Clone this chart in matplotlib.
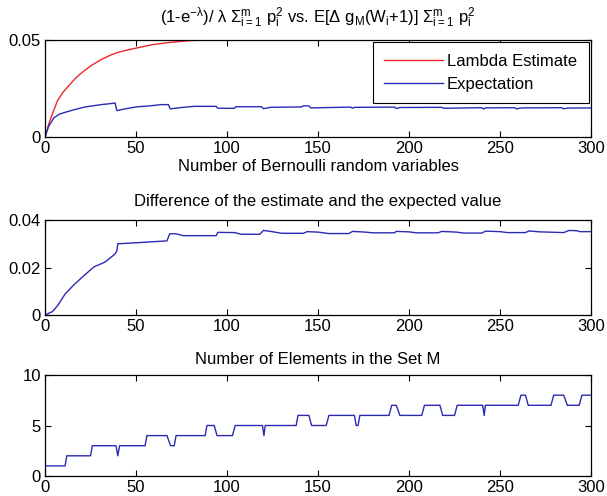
import numpy as np
import matplotlib.pyplot as plt

# --- data ---
# top panel: lambda estimate (red) and expectation (blue)
lam_x = [0, 2, 4, 7, 10, 13, 16, 19, 22, 26, 31, 36, 40, 45, 50, 55, 59, 64, 68, 73, 77, 82, 87]
lam_y = [0, 0.0065, 0.0118, 0.019, 0.0232, 0.0264, 0.0295, 0.0322, 0.0345, 0.0372, 0.040, 0.0422,
         0.0436, 0.0448, 0.0458, 0.0468, 0.0476, 0.0482, 0.0487, 0.0491, 0.0495, 0.0498, 0.0502]

exp_x = [0, 2, 5, 8, 11, 15, 22, 31, 36, 38.5, 39.5, 44, 50, 57, 64, 67.8, 68.8, 75, 82, 94, 95,
         104, 105, 119, 120, 124, 141, 142, 145, 146, 168, 169, 170, 192, 193, 195, 218, 219,
         240, 241, 242, 258, 259, 262, 284, 285, 287, 300]
exp_y = [0, 0.0055, 0.010, 0.0118, 0.0127, 0.0138, 0.0155, 0.0167, 0.0172, 0.0175, 0.0136, 0.0145,
         0.0155, 0.0160, 0.0167, 0.0167, 0.0145, 0.0152, 0.0158, 0.0158, 0.0148, 0.0148, 0.0156,
         0.0156, 0.0146, 0.0153, 0.0155, 0.0161, 0.0160, 0.0150, 0.0154, 0.0148, 0.0153, 0.0154,
         0.0147, 0.0152, 0.0153, 0.0148, 0.0151, 0.0144, 0.0150, 0.0151, 0.0145, 0.0150, 0.0151,
         0.0145, 0.0149, 0.0150]

# middle panel: difference
diff_x = [0, 4, 7, 11, 16, 22, 27, 33, 38.5, 39.5, 40, 50, 58, 67, 68.5, 72, 76, 94, 95, 104, 108,
          118, 120, 124, 130, 142, 144, 150, 156, 167, 169, 176, 180, 192, 193, 200, 204, 216, 218,
          226, 230, 240, 242, 250, 254, 264, 266, 272, 285, 288, 292, 294, 300]
diff_y = [0, 0.0014, 0.004, 0.0088, 0.0128, 0.017, 0.0203, 0.0223, 0.0257, 0.027, 0.030, 0.0304,
          0.0308, 0.0312, 0.0342, 0.0342, 0.0334, 0.0334, 0.0348, 0.0347, 0.0340, 0.0340, 0.0356,
          0.0352, 0.0344, 0.0344, 0.0351, 0.0349, 0.0343, 0.0343, 0.0352, 0.0349, 0.0346, 0.0346,
          0.0352, 0.0350, 0.0346, 0.0346, 0.0352, 0.0349, 0.0345, 0.0345, 0.0353, 0.0351, 0.0347,
          0.0347, 0.0354, 0.0350, 0.0347, 0.0356, 0.0355, 0.0351, 0.0351]

# bottom panel: number of elements in M
set_x = [0, 11, 12, 25, 26, 39, 40, 41, 55, 56, 67, 69, 71, 72, 88, 89, 93, 94.5, 103, 104.5,
         119.5, 120.3, 121, 138, 139, 145, 146.5, 154.5, 156, 170, 171, 172, 173, 189, 190.5, 193,
         195, 207, 208.5, 217, 218.5, 225, 226.5, 240.5, 241.3, 242, 260, 261.5, 264, 265.5, 278,
         279.5, 285, 287, 293.5, 295, 300]
set_y = [1, 1, 2, 2, 3, 3, 2, 3, 3, 4, 4, 3, 3, 4, 4, 5, 5, 4, 4, 5,
         5, 4, 5, 5, 6, 6, 5, 5, 6, 6, 5, 5, 6, 6, 7, 7,
         6, 6, 7, 7, 6, 6, 7, 7, 6, 7, 7, 8, 8, 7, 7,
         8, 8, 7, 7, 8, 8]

xticks = [0, 50, 100, 150, 200, 250, 300]

plt.rcParams['font.family'] = ['Liberation Sans', 'DejaVu Sans']
plt.rcParams['mathtext.default'] = 'regular'
plt.rcParams['font.size'] = 12

W, H = 607, 496
fig = plt.figure(figsize=(W/100, H/100), dpi=100)

def make_ax(top, bottom, left=45, right=591):
    return fig.add_axes([left/W, 1-bottom/H, (right-left)/W, (bottom-top)/H])

def style(ax, yt, ylab, ylim):
    ax.set_xlim(0, 300)
    ax.set_ylim(*ylim)
    ax.set_xticks(xticks)
    ax.set_xticklabels([str(v) for v in xticks])
    ax.set_yticks(yt)
    ax.set_yticklabels(ylab)
    ax.tick_params(direction='in', length=4, width=0.8, top=True, right=True, pad=3)
    for s in ax.spines.values():
        s.set_linewidth(0.9)

blue = '#2a2ab4'
red = '#e8282c'

ax1 = make_ax(40, 137)
ax1.plot(lam_x, lam_y, color=red, lw=1, label='Lambda Estimate')
ax1.plot(exp_x, exp_y, color=blue, lw=1, label='Expectation')
style(ax1, [0, 0.05], ['0', '0.05'], (0, 0.05))
ax1.set_title(r'(1-e$^{-\lambda}$)/ $\lambda$ $\Sigma_{i=1}^{m}$ p$_i^2$ vs. E[$\Delta$ g$_M$(W$_i$+1)] $\Sigma_{i=1}^{m}$ p$_i^2$',
              fontsize=12, pad=12)
ax1.set_xlabel('Number of Bernoulli random variables', labelpad=2)
leg = ax1.legend(loc='upper right', fancybox=False, edgecolor='black', framealpha=1,
                 handlelength=3.5, handletextpad=0.25, borderaxespad=0.15, borderpad=0.7,
                 labelspacing=0.45)
leg.get_frame().set_linewidth(0.8)

ax2 = make_ax(220, 315)
ax2.plot(diff_x, diff_y, color=blue, lw=1)
style(ax2, [0, 0.02, 0.04], ['0', '0.02', '0.04'], (0, 0.04))
ax2.set_title('Difference of the estimate and the expected value', fontsize=12, pad=10)

ax3 = make_ax(375, 476)
ax3.plot(set_x, set_y, color=blue, lw=1)
style(ax3, [0, 5, 10], ['0', '5', '10'], (0, 10))
ax3.set_title('Number of Elements in the Set M', fontsize=12, pad=8)

fig.savefig('out.png', dpi=100)
